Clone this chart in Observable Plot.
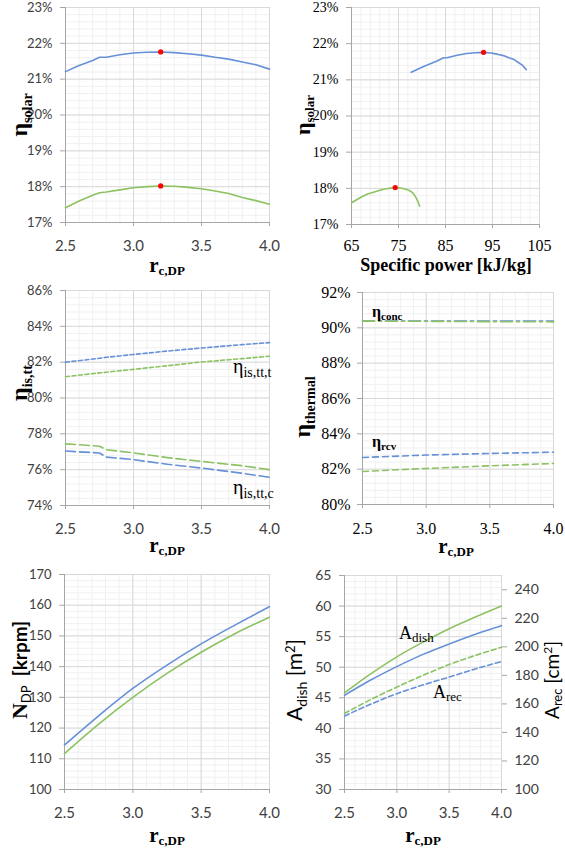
<!DOCTYPE html>
<html>
<head>
<meta charset="utf-8">
<script src="https://cdn.jsdelivr.net/npm/d3@7"></script>
<script src="https://cdn.jsdelivr.net/npm/@observablehq/plot@0.6"></script>
<style>
  html, body { margin: 0; padding: 0; background: white; }
  #root { position: relative; width: 565px; height: 848px; overflow: hidden; background: white; }
  .lbl { position: absolute; white-space: nowrap; line-height: 1; color: #000; }
  .serif { font-family: "Liberation Serif", "DejaVu Serif", serif; }
  .sans { font-family: Lato, "Open Sans", sans-serif; }
</style>
</head>
<body>
<div id="root"></div>
<script>
// ---------------- DATA ----------------
// Panel 1 & 2: solar efficiency vs pressure ratio and specific power
const rSolar        = [2.5, 2.6, 2.7, 2.75, 2.8, 2.9, 3.0, 3.1, 3.2, 3.3, 3.4, 3.5, 3.6, 3.7, 3.8, 3.9, 4.0];
const etaSolarBlue  = [21.21, 21.38, 21.52, 21.61, 21.61, 21.68, 21.73, 21.75, 21.76, 21.74, 21.71, 21.67, 21.61, 21.56, 21.48, 21.40, 21.28];
const etaSolarGreen = [17.41, 17.60, 17.76, 17.83, 17.85, 17.91, 17.97, 18.00, 18.02, 18.01, 17.98, 17.94, 17.88, 17.81, 17.70, 17.61, 17.51];
const spBlue        = [77.7, 80.6, 83.2, 84.6, 85.3, 87.5, 89.5, 91.4, 93.1, 94.6, 96.0, 97.3, 98.5, 99.6, 100.5, 101.4, 102.2];
const spGreen       = [63.5, 65.0, 67.1, 68.2, 68.6, 70.2, 71.6, 73.0, 74.3, 75.4, 76.4, 77.3, 78.0, 78.4, 78.9, 79.2, 79.5];

// Panel 3: isentropic efficiencies
const rIs           = [2.5, 2.75, 2.8, 3.0, 3.25, 3.5, 3.8, 4.0];
const etaTurbBlue   = [82.00, 82.22, 82.27, 82.43, 82.62, 82.79, 82.98, 83.09];
const etaTurbGreen  = [81.19, 81.40, 81.44, 81.60, 81.80, 82.01, 82.20, 82.33];
const etaCompGreen  = [77.44, 77.31, 77.11, 76.94, 76.67, 76.46, 76.22, 76.00];
const etaCompBlue   = [77.04, 76.93, 76.70, 76.56, 76.30, 76.09, 75.80, 75.57];

// Panel 4: thermal efficiencies
const rTh           = [2.5, 3.0, 3.5, 4.0];
const concBlue      = [90.38, 90.38, 90.38, 90.38];
const concGreen     = [90.38, 90.37, 90.35, 90.34];
const rcvBlue       = [82.66, 82.80, 82.89, 82.96];
const rcvGreen      = [81.87, 82.04, 82.19, 82.32];

// Panel 5 & 6: speed and areas
const rN            = [2.5, 2.75, 3.0, 3.25, 3.5, 3.75, 4.0];
const nBlue         = [114.5, 124.0, 132.9, 140.5, 147.4, 153.6, 159.5];
const nGreen        = [111.7, 121.3, 130.0, 137.8, 144.7, 150.8, 156.1];
const dishGreen     = [45.8, 48.9, 51.7, 54.1, 56.3, 58.2, 60.0];
const dishBlue      = [45.4, 47.9, 50.1, 52.1, 53.8, 55.4, 56.8];
const recGreen      = [153.3, 163.0, 171.8, 180.0, 187.6, 194.0, 199.7];
const recBlue       = [151.5, 159.8, 167.2, 173.3, 178.8, 184.5, 189.7];

// Tick values
const xTicksR   = [2.5, 3.0, 3.5, 4.0];
const xMinorR   = d3.range(25, 41).map(d => d / 10);
const yTicks1   = [17, 18, 19, 20, 21, 22, 23];
const yMinor1   = d3.range(85, 116).map(d => d / 5);
const xTicksSP  = [65, 75, 85, 95, 105];
const xMinorSP  = d3.range(65, 106, 2);
const yTicks3   = [74, 76, 78, 80, 82, 84, 86];
const yMinor3   = d3.range(185, 216).map(d => d * 0.4);
const yTicks4   = [80, 82, 84, 86, 88, 90, 92];
const yMinor4   = d3.range(200, 231).map(d => d * 0.4);
const yTicks5   = [100, 110, 120, 130, 140, 150, 160, 170];
const yMinor5   = d3.range(100, 171, 2);
const yTicks6   = [30, 35, 40, 45, 50, 55, 60, 65];
const yMinor6   = d3.range(30, 66, 1);
const yTicks6R  = [100, 120, 140, 160, 180, 200, 220, 240];

// ---------------- STYLE ----------------
const BLUE = "#6690d8", GREEN = "#8dc262", RED = "#ff0000";
const MAJOR = "#d9d9d9", MINOR = "#f0f0f0", AXIS = "#a6a6a6";
const SANS = "Lato, 'Open Sans', sans-serif";
const SERIF = "'Liberation Serif', 'DejaVu Serif', serif";
const root = document.getElementById("root");

const zip = (xs, ys) => xs.map((x, i) => ({x, y: ys[i]}));

function place(svg, left, top) {
  svg.style.position = "absolute";
  svg.style.left = left + "px";
  svg.style.top = top + "px";
  svg.style.maxWidth = "none";
  root.appendChild(svg);
}

function panel(o) {
  const marks = [
    Plot.ruleX(o.xMinor, {stroke: MINOR}),
    Plot.ruleY(o.yMinor, {stroke: MINOR}),
    Plot.ruleX(o.xTicks, {stroke: MAJOR}),
    Plot.ruleY(o.yTicks, {stroke: MAJOR}),
    Plot.ruleX([o.xd[0]], {stroke: AXIS}),
    Plot.ruleY([o.yd[0]], {stroke: AXIS}),
    Plot.axisX({ticks: o.xTicks, tickFormat: o.xFmt, tickSize: 4, tickPadding: o.xPad ?? 14,
      fontSize: o.xFs, fontFamily: o.xFont, stroke: AXIS, fill: o.tickFill ?? "#404040", label: null}),
    Plot.axisY({ticks: o.yTicks, tickFormat: o.yFmt, tickSize: 5, tickPadding: o.yPad ?? 8,
      fontSize: o.yFs, fontFamily: o.yFont, stroke: AXIS, fill: o.tickFill ?? "#404040", label: null}),
    ...o.marks
  ];
  const svg = Plot.plot({
    width: o.w, height: o.h,
    marginLeft: o.fx0 - o.left, marginRight: o.left + o.w - o.fx1,
    marginTop: o.fy0 - o.top, marginBottom: o.top + o.h - o.fy1,
    x: {domain: o.xd}, y: {domain: o.yd},
    style: {background: "transparent", overflow: "visible"},
    marks
  });
  place(svg, o.left, o.top);
}

function label(html, cx, cy, rot, cls) {
  const d = document.createElement("div");
  d.className = "lbl " + (cls || "");
  d.innerHTML = html;
  d.style.left = cx + "px";
  d.style.top = cy + "px";
  d.style.transform = `translate(-50%,-50%) rotate(${rot}deg)`;
  root.appendChild(d);
}
function labelLeft(html, x, cy, cls) {
  const d = document.createElement("div");
  d.className = "lbl " + (cls || "");
  d.innerHTML = html;
  d.style.left = x + "px";
  d.style.top = cy + "px";
  d.style.transform = `translate(0,-50%)`;
  root.appendChild(d);
}

const pct = d => d + "%";
const f1 = d => d.toFixed(1);
const line = (xs, ys, color, extra = {}) =>
  Plot.line(zip(xs, ys), {x: "x", y: "y", stroke: color, strokeWidth: 1.6, ...extra});
const peak = (xs, ys) => [d3.greatest(zip(xs, ys), d => d.y)];
const dot = (xs, ys) => Plot.dot(peak(xs, ys), {x: "x", y: "y", r: 2.6, fill: RED, stroke: "none"});

// ---------------- PANEL 1 ----------------
panel({left: 0, top: 0, w: 280, h: 280, fx0: 65, fx1: 269, fy0: 7, fy1: 222,
  xd: [2.5, 4], yd: [17, 23], xTicks: xTicksR, yTicks: yTicks1, xMinor: xMinorR, yMinor: yMinor1,
  xFmt: f1, yFmt: pct, xFs: 15, yFs: 13, xFont: SANS, yFont: SANS,
  marks: [line(rSolar, etaSolarBlue, BLUE), line(rSolar, etaSolarGreen, GREEN),
          dot(rSolar, etaSolarBlue), dot(rSolar, etaSolarGreen)]});

// ---------------- PANEL 2 ----------------
panel({left: 282, top: 0, w: 283, h: 280, fx0: 351, fx1: 539, fy0: 7, fy1: 224,
  xd: [65, 105], yd: [17, 23], xTicks: xTicksSP, yTicks: yTicks1, xMinor: xMinorSP, yMinor: yMinor1,
  xFmt: d => d, yFmt: pct, xFs: 16, yFs: 14, xFont: SERIF, yFont: SERIF, tickFill: "#000", xPad: 11,
  marks: [line(spBlue, etaSolarBlue, BLUE, {clip: true}), line(spGreen, etaSolarGreen, GREEN, {clip: true}),
          dot(spBlue, etaSolarBlue), dot(spGreen, etaSolarGreen)]});

// ---------------- PANEL 3 ----------------
panel({left: 0, top: 282, w: 280, h: 282, fx0: 65, fx1: 269, fy0: 290, fy1: 505,
  xd: [2.5, 4], yd: [74, 86], xTicks: xTicksR, yTicks: yTicks3, xMinor: xMinorR, yMinor: yMinor3,
  xFmt: f1, yFmt: pct, xFs: 15, yFs: 13, xFont: SANS, yFont: SANS,
  marks: [line(rIs, etaTurbBlue, BLUE, {strokeDasharray: "4,2.5"}),
          line(rIs, etaTurbGreen, GREEN, {strokeDasharray: "4,2.5"}),
          line(rIs, etaCompGreen, GREEN, {strokeDasharray: "10,4"}),
          line(rIs, etaCompBlue, BLUE, {strokeDasharray: "10,4"})]});

// ---------------- PANEL 4 ----------------
panel({left: 282, top: 282, w: 283, h: 282, fx0: 362, fx1: 553, fy0: 292, fy1: 504,
  xd: [2.5, 4], yd: [80, 92], xTicks: xTicksR, yTicks: yTicks4, xMinor: xMinorR, yMinor: yMinor4,
  xFmt: f1, yFmt: pct, xFs: 16, yFs: 16, xFont: SERIF, yFont: SERIF, tickFill: "#000", yPad: 7,
  marks: [line(rTh, concBlue, BLUE, {strokeDasharray: "12,4,3,4"}),
          line(rTh, concGreen, GREEN, {strokeDasharray: "12,4,3,4"}),
          line(rTh, rcvBlue, BLUE, {strokeDasharray: "6,4"}),
          line(rTh, rcvGreen, GREEN, {strokeDasharray: "6,4"})]});

// ---------------- PANEL 5 ----------------
panel({left: 0, top: 566, w: 280, h: 282, fx0: 64, fx1: 269, fy0: 574, fy1: 789,
  xd: [2.5, 4], yd: [100, 170], xTicks: xTicksR, yTicks: yTicks5, xMinor: xMinorR, yMinor: yMinor5,
  xFmt: f1, yFmt: d => d, xFs: 15, yFs: 13, xFont: SANS, yFont: SANS,
  marks: [line(rN, nBlue, BLUE, {curve: "monotone-x"}), line(rN, nGreen, GREEN, {curve: "monotone-x"})]});

// ---------------- PANEL 6 ----------------
panel({left: 282, top: 566, w: 283, h: 282, fx0: 344, fx1: 501, fy0: 575, fy1: 789,
  xd: [2.5, 4], yd: [30, 65], xTicks: xTicksR, yTicks: yTicks6, xMinor: xMinorR, yMinor: yMinor6,
  xFmt: f1, yFmt: d => d, xFs: 15, yFs: 14, xFont: SANS, yFont: SANS,
  marks: [line(rN, dishGreen, GREEN, {curve: "monotone-x"}), line(rN, dishBlue, BLUE, {curve: "monotone-x"})]});

// Right-axis overlay for A_rec
{
  const left = 282, top = 566, w = 283, h = 282, fx0 = 344, fx1 = 501, fy0 = 575, fy1 = 789;
  const svg = Plot.plot({
    width: w, height: h,
    marginLeft: fx0 - left, marginRight: left + w - fx1, marginTop: fy0 - top, marginBottom: top + h - fy1,
    x: {domain: [2.5, 4], axis: null}, y: {domain: [100, 250], axis: null},
    style: {background: "transparent", overflow: "visible"},
    marks: [
      Plot.axisY({anchor: "right", ticks: yTicks6R, tickSize: 5, tickPadding: 8, fontSize: 14,
        fontFamily: SANS, stroke: AXIS, fill: "#404040", label: null}),
      line(rN, recGreen, GREEN, {curve: "monotone-x", strokeDasharray: "5,3"}),
      line(rN, recBlue, BLUE, {curve: "monotone-x", strokeDasharray: "5,3"})
    ]
  });
  place(svg, left, top);
}

// ---------------- LABELS ----------------
const sub = (t, fs) => `<span style="font-size:${fs}px;vertical-align:-0.3em">${t}</span>`;
const sup = (t, fs) => `<span style="font-size:${fs}px;vertical-align:0.55em">${t}</span>`;
const rLabel = `<b><span style="font-size:21px">r</span>${sub("c,DP", 13)}</b>`;

// Panel 1
label(`<b><span style="font-size:24px">η</span>${sub("solar", 14)}</b>`, 21, 115, -90, "serif");
label(rLabel, 167, 266, 0, "serif");
// Panel 2
label(`<b><span style="font-size:22px">η</span>${sub("solar", 13)}</b>`, 304, 115, -90, "serif");
label(`<b style="font-size:18px">Specific power [kJ/kg]</b>`, 446, 265, 0, "serif");
// Panel 3
label(`<b><span style="font-size:24px">η</span>${sub("is,tt", 14)}</b>`, 21, 383, -90, "serif");
label(rLabel, 167, 546, 0, "serif");
labelLeft(`<span style="font-size:20px">η</span>${sub("is,tt,t", 14)}`, 233, 368, "serif");
labelLeft(`<span style="font-size:20px">η</span>${sub("is,tt,c", 14)}`, 233, 489, "serif");
// Panel 4
label(`<b><span style="font-size:24px">η</span>${sub("thermal", 14)}</b>`, 304, 407, -90, "serif");
label(rLabel, 456, 547, 0, "serif");
labelLeft(`<b><span style="font-size:16px">η</span>${sub("conc", 11)}</b>`, 372, 313, "serif");
labelLeft(`<b><span style="font-size:16px">η</span>${sub("rcv", 11)}</b>`, 372, 443, "serif");
// Panel 5
label(`<b class="serif" style="font-size:22px">N</b><span class="sans" style="font-size:13px;vertical-align:-0.3em">DP</span><b class="sans" style="font-size:19px">&nbsp;&nbsp;[krpm]</b>`, 21, 670, -90, "");
label(rLabel, 167, 836, 0, "serif");
// Panel 6
label(`<span style="font-size:21px">A</span>${sub("dish", 14)}<span style="font-size:21px"> [m${sup("2", 13)}]</span>`, 296, 680, -90, "sans");
label(`<span style="font-size:19px">A</span>${sub("rec", 13)}<span style="font-size:19px"> [cm${sup("2", 12)}]</span>`, 553, 680, -90, "sans");
label(rLabel, 423, 836, 0, "serif");
labelLeft(`<span style="font-size:18px">A</span>${sub("dish", 13)}`, 399, 634, "serif");
labelLeft(`<span style="font-size:18px">A</span>${sub("rec", 13)}`, 433, 693, "serif");
</script>
</body>
</html>
